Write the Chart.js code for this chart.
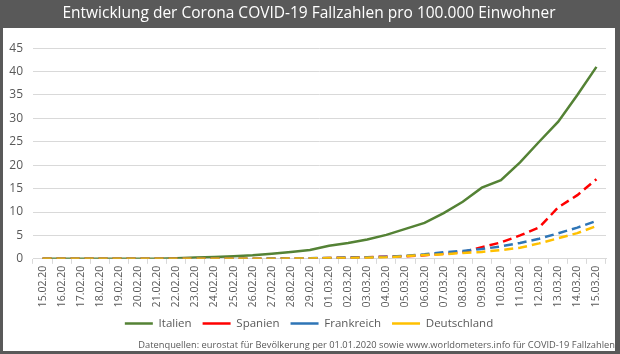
<!DOCTYPE html>
<html>
<head>
<meta charset="utf-8">
<script src="https://cdn.jsdelivr.net/npm/chart.js@4/dist/chart.umd.min.js"></script>
<style>
html,body{margin:0;padding:0;background:#fff;}
#wrap{width:620px;height:354px;position:relative;}
</style>
</head>
<body>
<div id="wrap"><canvas id="c" width="620" height="354"></canvas></div>
<script>
const labels = ["15.02.20","16.02.20","17.02.20","18.02.20","19.02.20","20.02.20","21.02.20","22.02.20","23.02.20","24.02.20","25.02.20","26.02.20","27.02.20","28.02.20","29.02.20","01.03.20","02.03.20","03.03.20","04.03.20","05.03.20","06.03.20","07.03.20","08.03.20","09.03.20","10.03.20","11.03.20","12.03.20","13.03.20","14.03.20","15.03.20"];
const italien = [0.005,0.005,0.005,0.005,0.005,0.005,0.03,0.13,0.26,0.38,0.53,0.75,1.09,1.47,1.87,2.81,3.37,4.15,5.12,6.39,7.68,9.75,12.2,15.2,16.8,20.6,25.0,29.3,35.0,41.0];
const spanien = [0,0,0,0,0,0,0,0,0,0.004,0.013,0.028,0.032,0.068,0.096,0.18,0.26,0.35,0.47,0.56,0.78,1.07,1.43,2.5,3.5,5.0,6.7,11.0,13.6,17.0];
const frankreich = [0.018,0.018,0.018,0.018,0.018,0.018,0.018,0.018,0.018,0.018,0.021,0.027,0.057,0.085,0.15,0.19,0.29,0.32,0.43,0.63,0.97,1.42,1.68,2.1,2.66,3.4,4.29,5.46,6.67,8.1];
const deutschland = [0.019,0.019,0.019,0.019,0.019,0.019,0.019,0.019,0.019,0.019,0.019,0.022,0.031,0.058,0.095,0.16,0.19,0.24,0.32,0.58,0.81,0.96,1.25,1.47,1.88,2.37,3.3,4.4,5.5,7.0];
const seriesNames = ["Italien","Spanien","Frankreich","Deutschland"];
const yTicks = {min:0, max:45, step:5};
const titleText = "Entwicklung der Corona COVID-19 Fallzahlen pro 100.000 Einwohner";
const sourceText = "Datenquellen: eurostat für Bevölkerung per 01.01.2020 sowie www.worldometers.info für COVID-19 Fallzahlen";

Chart.defaults.font.family = "'Open Sans', sans-serif";
Chart.defaults.color = '#595959';

const framePlugin = {
  id: 'frame',
  beforeDraw(chart) {
    const c = chart.ctx;
    c.save();
    c.fillStyle = '#595959';
    c.fillRect(0, 0, chart.width, chart.height);
    c.fillStyle = '#ffffff';
    c.fillRect(3, 28, chart.width - 8, chart.height - 31);
    c.restore();
  }
};

const dash = [9, 5];
new Chart(document.getElementById('c'), {
  type: 'line',
  data: {
    labels: labels,
    datasets: [
      {label: seriesNames[0], data: italien, borderColor: '#548235', backgroundColor: '#548235', borderWidth: 2.5, order: 4},
      {label: seriesNames[1], data: spanien, borderColor: '#ff0000', backgroundColor: '#ff0000', borderWidth: 2.5, borderDash: dash, order: 3},
      {label: seriesNames[2], data: frankreich, borderColor: '#2e75b6', backgroundColor: '#2e75b6', borderWidth: 2.5, borderDash: dash, order: 2},
      {label: seriesNames[3], data: deutschland, borderColor: '#ffc000', backgroundColor: '#ffc000', borderWidth: 2.5, borderDash: dash, order: 1}
    ]
  },
  options: {
    responsive: false,
    animation: false,
    devicePixelRatio: 1,
    layout: {padding: {left: 3, right: 5, top: 0, bottom: 3}},
    elements: {point: {radius: 0, hoverRadius: 0}, line: {tension: 0}},
    scales: {
      x: {
        type: 'category',
        offset: true,
        grid: {offset: true, drawOnChartArea: false, drawTicks: true, tickLength: 5, color: '#d9d9d9'},
        border: {display: true, color: '#d9d9d9'},
        ticks: {minRotation: 90, maxRotation: 90, autoSkip: false, font: {size: 10.5}, color: '#595959', padding: 2},
        afterFit(s) { s.height = 48; }
      },
      y: {
        min: yTicks.min, max: yTicks.max,
        ticks: {stepSize: yTicks.step, font: {size: 12}, color: '#595959', padding: 10},
        grid: {color: '#d9d9d9', drawTicks: false},
        border: {display: false},
        afterFit(s) { s.width = 30; }
      },
      y2: {
        position: 'right',
        display: true,
        ticks: {display: false},
        grid: {display: false},
        border: {display: false},
        afterFit(s) { s.width = 9; }
      }
    },
    plugins: {
      title: {
        display: true, text: titleText, color: '#ffffff',
        font: {size: 15.5, weight: 'normal'},
        padding: {top: 4, bottom: 25.5}
      },
      subtitle: {
        display: true, text: sourceText, position: 'bottom', align: 'end',
        color: '#595959', font: {size: 9.3, weight: 'normal'},
        padding: {top: 0, bottom: 0.5}
      },
      legend: {
        position: 'bottom',
        labels: {
          usePointStyle: true, pointStyle: 'line', pointStyleWidth: 28,
          font: {size: 11.5}, color: '#595959', padding: 11,
          sort: (a, b) => a.datasetIndex - b.datasetIndex
        }
      },
      tooltip: {enabled: false}
    }
  },
  plugins: [framePlugin]
});
</script>
</body>
</html>
